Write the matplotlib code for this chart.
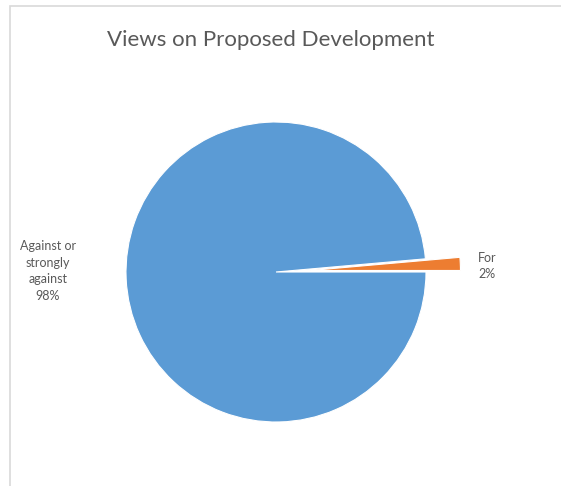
import matplotlib.pyplot as plt
from matplotlib.patches import Rectangle

# data
categories = ["Against or\nstrongly\nagainst", "For"]
values = [98.6, 1.4]
pct_labels = ["98%", "2%"]
colors = ["#5B9BD5", "#ED7D31"]
explode_frac = [0, 0.23]

W, H = 561, 486
fig = plt.figure(figsize=(W / 100, H / 100), dpi=100)
fig.patch.set_facecolor("white")

# chart area border (only top and left edges visible in the crop)
fig.add_artist(Rectangle((10 / W, -0.05), 1.2, (H - 6) / H + 0.05,
                         transform=fig.transFigure, fill=False,
                         edgecolor="#d9d9d9", linewidth=1.2))

ax = fig.add_axes([0, 0, 1, 1])
cx, cy, r = 276, H - 272, 150
# matplotlib's explode is in data units, so scale by the radius
wedges, _ = ax.pie(values, colors=colors, explode=[e * r for e in explode_frac],
                   startangle=0, counterclock=False, center=(cx, cy), radius=r,
                   wedgeprops=dict(edgecolor="white", linewidth=0.8))
ax.set_xlim(0, W)
ax.set_ylim(0, H)
ax.set_aspect("equal")
ax.axis("off")

txt = dict(color="#595959", fontsize=9, family=["Lato", "DejaVu Sans"],
           ha="center", va="center", linespacing=1.45)
ax.text(48, H - 271, categories[0] + "\n" + pct_labels[0], **txt)
ax.text(487, H - 266, categories[1] + "\n" + pct_labels[1], **txt)

fig.text(271 / W, 1 - 40 / H, "Views on Proposed Development", color="#595959",
         fontsize=16, family=["Lato", "DejaVu Sans"], ha="center", va="center")

fig.savefig("out.png", dpi=100, facecolor="white")
